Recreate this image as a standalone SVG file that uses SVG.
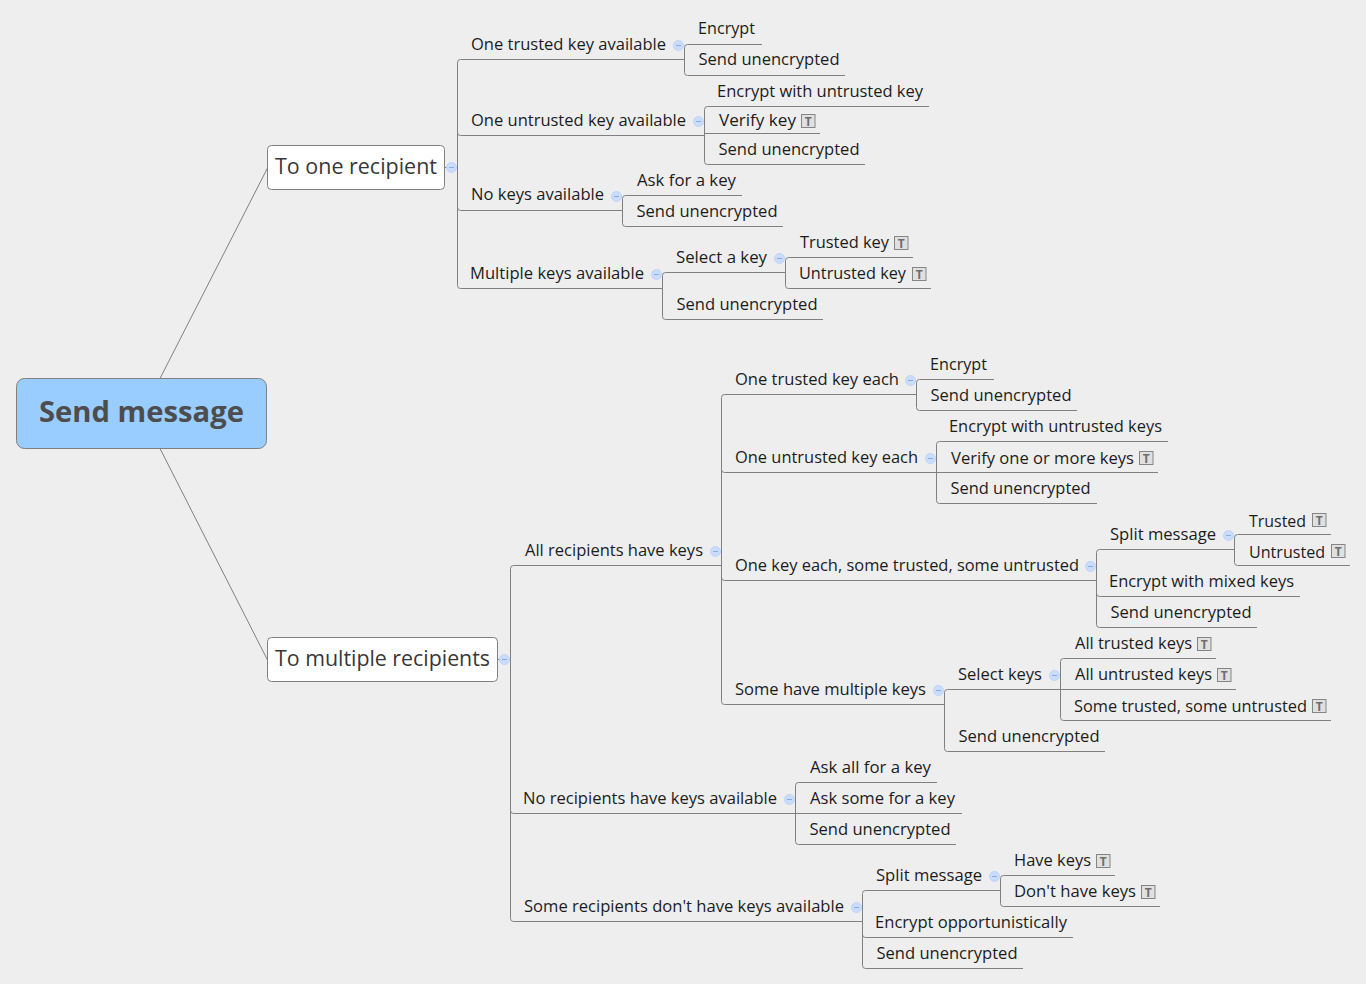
<svg xmlns="http://www.w3.org/2000/svg" width="1366" height="984" viewBox="0 0 1366 984">
<style>
text{font-family:"Open Sans","Noto Sans","Liberation Sans",sans-serif;font-size:16px;fill:#1c1c1c}
.l{fill:none;stroke:#808080;stroke-width:1}
.box{fill:#fff;stroke:#808080;stroke-width:1}
.root{fill:#99ccff;stroke:#808080;stroke-width:1}
.t1{font-size:22px;fill:#383838}
.t0{font-size:29px;font-weight:700;fill:#4d4d4d}
.fc{fill:#cadcfb;stroke:#bfd4f8;stroke-width:1}
.fm{stroke:#8dabe0;stroke-width:1}
.ib{fill:#e0e0e0;stroke:#858585;stroke-width:1}
.it{font-size:12px;font-weight:700;fill:#6e6e6e;text-anchor:middle}
</style>
<defs>
<g id="fold"><circle class="fc" r="5"/><path class="fm" d="M-2.500 0H2.500"/></g>
<g id="note"><rect class="ib" width="13.500" height="13"/><text class="it" x="6.750" y="11">T</text></g>
</defs>
<rect width="1366" height="984" fill="#eeeeee"/>
<g id="connectors">
<path class="l" d="M160 378.500L267.500 168M160 448.500L267.500 660M445 167.500H457.500M498 659.500H510.500"/>
<path class="l" d="M684.500 59.500H460.500Q457.500 59.500 457.500 62.500V285.500Q457.500 288.500 460.500 288.500H662.500M457.500 132.500Q457.500 135.500 460.500 135.500H704.500M457.500 207.500Q457.500 210.500 460.500 210.500H622.500"/>
<path class="l" d="M762 44.500H687.500Q684.500 44.500 684.500 47.500V72.500Q684.500 75.500 687.500 75.500H845"/>
<path class="l" d="M929 106.500H707.500Q704.500 106.500 704.500 109.500V161.500Q704.500 164.500 707.500 164.500H865M704.500 133.500H820"/>
<path class="l" d="M742 195.500H625.500Q622.500 195.500 622.500 198.500V223.500Q622.500 226.500 625.500 226.500H783"/>
<path class="l" d="M785.500 272.500H665.500Q662.500 272.500 662.500 275.500V316.500Q662.500 319.500 665.500 319.500H823"/>
<path class="l" d="M913 257.500H788.500Q785.500 257.500 785.500 260.500V285.500Q785.500 288.500 788.500 288.500H931"/>
<path class="l" d="M721.500 565.500H513.500Q510.500 565.500 510.500 568.500V918.500Q510.500 921.500 513.500 921.500H862.500M510.500 810.500Q510.500 813.500 513.500 813.500H795.500"/>
<path class="l" d="M916.500 394.500H724.500Q721.500 394.500 721.500 397.500V701.500Q721.500 704.500 724.500 704.500H944.500M721.500 469.500Q721.500 472.500 724.500 472.500H936.500M721.500 577.500Q721.500 580.500 724.500 580.500H1096.500"/>
<path class="l" d="M994 379.500H919.500Q916.500 379.500 916.500 382.500V407.500Q916.500 410.500 919.500 410.500H1077"/>
<path class="l" d="M1168 441.500H939.500Q936.500 441.500 936.500 444.500V500.500Q936.500 503.500 939.500 503.500H1097M936.500 472.500H1158"/>
<path class="l" d="M1234.500 549.500H1099.500Q1096.500 549.500 1096.500 552.500V624.500Q1096.500 627.500 1099.500 627.500H1257M1096.500 593.500Q1096.500 596.500 1099.500 596.500H1300"/>
<path class="l" d="M1331 534.500H1237.500Q1234.500 534.500 1234.500 537.500V562.500Q1234.500 565.500 1237.500 565.500H1350"/>
<path class="l" d="M1060.500 689.500H947.500Q944.500 689.500 944.500 692.500V748.500Q944.500 751.500 947.500 751.500H1105"/>
<path class="l" d="M1216 658.500H1063.500Q1060.500 658.500 1060.500 661.500V717.500Q1060.500 720.500 1063.500 720.500H1331M1060.500 689.500H1236"/>
<path class="l" d="M937 782.500H798.500Q795.500 782.500 795.500 785.500V841.500Q795.500 844.500 798.500 844.500H956M795.500 813.500H962"/>
<path class="l" d="M1000.500 890.500H865.500Q862.500 890.500 862.500 893.500V965.500Q862.500 968.500 865.500 968.500H1023M862.500 934.500Q862.500 937.500 865.500 937.500H1073"/>
<path class="l" d="M1115 875.500H1003.500Q1000.500 875.500 1000.500 878.500V903.500Q1000.500 906.500 1003.500 906.500H1160"/>
</g>
<g id="root"><rect class="root" x="16.500" y="378.500" width="250" height="70" rx="8"/><text class="t0" x="39" y="421.500" textLength="205" lengthAdjust="spacingAndGlyphs">Send message</text></g>
<g id="n-one"><rect class="box" x="267.500" y="145.500" width="177" height="44" rx="4"/><text class="t1" x="275" y="173.500" textLength="162" lengthAdjust="spacingAndGlyphs">To one recipient</text><use href="#fold" x="451.500" y="167.500"/></g>
<g id="n-multi"><rect class="box" x="267.500" y="637.500" width="230" height="44" rx="4"/><text class="t1" x="275" y="665.500" textLength="215" lengthAdjust="spacingAndGlyphs">To multiple recipients</text><use href="#fold" x="504.500" y="659.500"/></g>
<g id="a1"><text x="471" y="49.500" textLength="195" lengthAdjust="spacingAndGlyphs">One trusted key available</text><use href="#fold" x="678.500" y="45.500"/></g>
<g id="a1a"><text x="698" y="34" textLength="57" lengthAdjust="spacingAndGlyphs">Encrypt</text></g>
<g id="a1b"><text x="698.500" y="65" textLength="141" lengthAdjust="spacingAndGlyphs">Send unencrypted</text></g>
<g id="a2"><text x="471" y="125.500" textLength="215" lengthAdjust="spacingAndGlyphs">One untrusted key available</text><use href="#fold" x="698.500" y="121.500"/></g>
<g id="a2a"><text x="717" y="96.800" textLength="206" lengthAdjust="spacingAndGlyphs">Encrypt with untrusted key</text></g>
<g id="a2b"><text x="719" y="126" textLength="77" lengthAdjust="spacingAndGlyphs">Verify key</text><use href="#note" x="801.500" y="114.500"/></g>
<g id="a2c"><text x="718.500" y="154.800" textLength="141" lengthAdjust="spacingAndGlyphs">Send unencrypted</text></g>
<g id="a3"><text x="471" y="200.300" textLength="133" lengthAdjust="spacingAndGlyphs">No keys available</text><use href="#fold" x="616.500" y="196.500"/></g>
<g id="a3a"><text x="637" y="185.800" textLength="99" lengthAdjust="spacingAndGlyphs">Ask for a key</text></g>
<g id="a3b"><text x="636.500" y="216.800" textLength="141" lengthAdjust="spacingAndGlyphs">Send unencrypted</text></g>
<g id="a4"><text x="470" y="278.800" textLength="174" lengthAdjust="spacingAndGlyphs">Multiple keys available</text><use href="#fold" x="656.500" y="274.500"/></g>
<g id="a4a"><text x="676" y="262.500" textLength="91" lengthAdjust="spacingAndGlyphs">Select a key</text><use href="#fold" x="779.500" y="258.500"/></g>
<g id="a4a1"><text x="800" y="247.800" textLength="89" lengthAdjust="spacingAndGlyphs">Trusted key</text><use href="#note" x="894.500" y="236.500"/></g>
<g id="a4a2"><text x="799" y="278.800" textLength="107" lengthAdjust="spacingAndGlyphs">Untrusted key</text><use href="#note" x="912.500" y="267.500"/></g>
<g id="a4b"><text x="676.500" y="309.800" textLength="141" lengthAdjust="spacingAndGlyphs">Send unencrypted</text></g>
<g id="b1"><text x="525" y="555.800" textLength="178" lengthAdjust="spacingAndGlyphs">All recipients have keys</text><use href="#fold" x="715.500" y="551.500"/></g>
<g id="b11"><text x="735" y="384.800" textLength="164" lengthAdjust="spacingAndGlyphs">One trusted key each</text><use href="#fold" x="910.500" y="380.500"/></g>
<g id="b11a"><text x="930" y="369.800" textLength="57" lengthAdjust="spacingAndGlyphs">Encrypt</text></g>
<g id="b11b"><text x="930.500" y="400.800" textLength="141" lengthAdjust="spacingAndGlyphs">Send unencrypted</text></g>
<g id="b12"><text x="735" y="462.800" textLength="183" lengthAdjust="spacingAndGlyphs">One untrusted key each</text><use href="#fold" x="930.500" y="458.500"/></g>
<g id="b12a"><text x="949" y="431.800" textLength="213" lengthAdjust="spacingAndGlyphs">Encrypt with untrusted keys</text></g>
<g id="b12b"><text x="951" y="463.800" textLength="183" lengthAdjust="spacingAndGlyphs">Verify one or more keys</text><use href="#note" x="1139.500" y="451.500"/></g>
<g id="b12c"><text x="950.500" y="493.800" textLength="140" lengthAdjust="spacingAndGlyphs">Send unencrypted</text></g>
<g id="b13"><text x="735" y="570.800" textLength="344" lengthAdjust="spacingAndGlyphs">One key each, some trusted, some untrusted</text><use href="#fold" x="1090.500" y="566.500"/></g>
<g id="b13a"><text x="1110" y="539.800" textLength="106" lengthAdjust="spacingAndGlyphs">Split message</text><use href="#fold" x="1228.500" y="535.500"/></g>
<g id="b13a1"><text x="1249" y="526.800" textLength="57" lengthAdjust="spacingAndGlyphs">Trusted</text><use href="#note" x="1312.500" y="513.500"/></g>
<g id="b13a2"><text x="1249" y="557.800" textLength="76" lengthAdjust="spacingAndGlyphs">Untrusted</text><use href="#note" x="1331.500" y="544.500"/></g>
<g id="b13b"><text x="1109" y="586.800" textLength="185" lengthAdjust="spacingAndGlyphs">Encrypt with mixed keys</text></g>
<g id="b13c"><text x="1110.500" y="617.800" textLength="141" lengthAdjust="spacingAndGlyphs">Send unencrypted</text></g>
<g id="b14"><text x="735" y="694.800" textLength="191" lengthAdjust="spacingAndGlyphs">Some have multiple keys</text><use href="#fold" x="938.500" y="690.500"/></g>
<g id="b14a"><text x="958" y="679.800" textLength="84" lengthAdjust="spacingAndGlyphs">Select keys</text><use href="#fold" x="1054.500" y="675.500"/></g>
<g id="b14a1"><text x="1075" y="648.800" textLength="117" lengthAdjust="spacingAndGlyphs">All trusted keys</text><use href="#note" x="1197.500" y="637.500"/></g>
<g id="b14a2"><text x="1075" y="679.800" textLength="137" lengthAdjust="spacingAndGlyphs">All untrusted keys</text><use href="#note" x="1217.500" y="668.500"/></g>
<g id="b14a3"><text x="1074" y="711.800" textLength="233" lengthAdjust="spacingAndGlyphs">Some trusted, some untrusted</text><use href="#note" x="1312.500" y="699.500"/></g>
<g id="b14b"><text x="958.500" y="741.800" textLength="141" lengthAdjust="spacingAndGlyphs">Send unencrypted</text></g>
<g id="b2"><text x="523" y="803.800" textLength="254" lengthAdjust="spacingAndGlyphs">No recipients have keys available</text><use href="#fold" x="789.500" y="799.500"/></g>
<g id="b2a"><text x="810" y="772.800" textLength="121" lengthAdjust="spacingAndGlyphs">Ask all for a key</text></g>
<g id="b2b"><text x="810" y="803.800" textLength="145" lengthAdjust="spacingAndGlyphs">Ask some for a key</text></g>
<g id="b2c"><text x="809.500" y="834.800" textLength="141" lengthAdjust="spacingAndGlyphs">Send unencrypted</text></g>
<g id="b3"><text x="524" y="911.800" textLength="320" lengthAdjust="spacingAndGlyphs">Some recipients don't have keys available</text><use href="#fold" x="856.500" y="907.500"/></g>
<g id="b3a"><text x="876" y="880.500" textLength="106" lengthAdjust="spacingAndGlyphs">Split message</text><use href="#fold" x="994.500" y="876.500"/></g>
<g id="b3a1"><text x="1014" y="865.500" textLength="77" lengthAdjust="spacingAndGlyphs">Have keys</text><use href="#note" x="1096.500" y="854.500"/></g>
<g id="b3a2"><text x="1014" y="896.500" textLength="122" lengthAdjust="spacingAndGlyphs">Don't have keys</text><use href="#note" x="1141.500" y="885.500"/></g>
<g id="b3b"><text x="875" y="927.500" textLength="192" lengthAdjust="spacingAndGlyphs">Encrypt opportunistically</text></g>
<g id="b3c"><text x="876.500" y="958.500" textLength="141" lengthAdjust="spacingAndGlyphs">Send unencrypted</text></g>
</svg>
